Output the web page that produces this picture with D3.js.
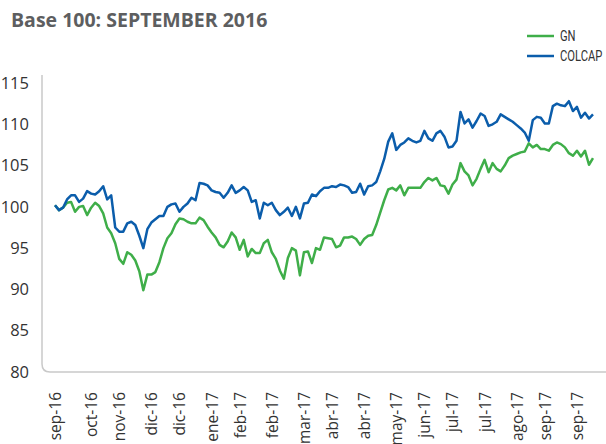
<!DOCTYPE html>
<html>
<head>
<meta charset="utf-8">
<script src="https://cdn.jsdelivr.net/npm/d3@7"></script>
<style>
	body { margin: 0; background: #fff; }
	svg { display: block; }
</style>
</head>
<body>
<svg id="chart" width="606" height="444"></svg>
<script>
// Base 100 index, GN vs COLCAP, sep-2016 .. sep-2017 (one value every ~2 trading days)
const colcap = [
	100.2, 99.6, 99.9, 100.9, 101.4, 101.4, 100.6, 101.0, 101.9, 101.6,
	101.5, 101.9, 102.5, 100.9, 101.4, 97.5, 97.0, 97.0, 98.0, 98.2,
	97.8, 96.5, 95.0, 97.3, 98.1, 98.5, 98.9, 98.9, 100.0, 100.3,
	100.4, 99.4, 100.0, 100.4, 101.1, 100.8, 102.9, 102.8, 102.6, 102.0,
	101.8, 101.7, 101.1, 101.7, 102.6, 101.7, 102.0, 102.4, 102.0, 100.6,
	100.8, 98.6, 100.5, 100.2, 100.5, 99.6, 99.0, 99.4, 99.9, 98.9,
	100.0, 98.6, 100.4, 100.5, 101.5, 101.3, 101.9, 102.3, 102.3, 102.5,
	102.4, 102.7, 102.6, 102.4, 101.7, 101.8, 102.8, 101.5, 102.5, 102.6,
	103.0, 104.3, 105.8, 107.9, 108.9, 106.9, 107.5, 107.8, 108.3, 108.0,
	107.8, 108.0, 109.2, 108.3, 108.0, 108.9, 109.2, 108.5, 107.2, 107.3,
	108.0, 111.5, 110.1, 110.6, 109.6, 110.4, 111.3, 111.0, 109.8, 110.0,
	110.3, 111.2, 110.9, 110.6, 110.3, 109.9, 109.5, 109.0, 108.0, 110.5,
	110.9, 110.8, 110.1, 110.1, 112.2, 112.5, 112.3, 112.2, 112.8, 111.6,
	112.1, 110.8, 111.4, 110.7, 111.2
];
const gn = [
	100.2, 99.6, 99.9, 100.5, 100.6, 99.4, 100.0, 100.1, 99.0, 99.9,
	100.5, 100.1, 99.2, 97.5, 96.8, 95.6, 93.7, 93.1, 94.5, 94.2,
	93.5, 92.2, 89.9, 91.8, 91.8, 92.1, 93.3, 95.0, 96.2, 96.8,
	97.9, 98.6, 98.5, 98.2, 98.0, 98.0, 98.7, 98.4, 97.6, 96.9,
	96.3, 95.4, 95.1, 95.8, 96.9, 96.3, 94.8, 96.0, 94.0, 94.9,
	94.4, 94.4, 95.6, 96.0, 94.5, 93.7, 92.3, 91.3, 93.8, 95.0,
	94.7, 91.7, 94.5, 94.6, 93.2, 95.0, 94.8, 96.3, 96.2, 96.1,
	95.1, 95.3, 96.3, 96.3, 96.4, 96.1, 95.4, 96.1, 96.5, 96.6,
	97.8, 99.3, 100.8, 102.1, 102.3, 102.0, 102.6, 101.4, 102.3, 102.3,
	102.3, 102.3, 103.0, 103.5, 103.2, 103.5, 102.6, 102.5, 101.6, 102.7,
	103.3, 105.3, 104.3, 103.8, 102.6, 103.4, 104.6, 105.7, 104.2, 105.3,
	104.6, 104.3, 105.0, 105.9, 106.2, 106.4, 106.6, 106.7, 107.7, 107.2,
	107.5, 107.0, 107.0, 106.8, 107.5, 107.8, 107.6, 107.2, 106.5, 106.2,
	106.8, 106.1, 106.8, 105.1, 105.9
];
const xLabels = ['sep-16', 'oct-16', 'nov-16', 'dic-16', 'dic-16', 'ene-17', 'feb-17', 'feb-17', 'mar-17',
	'abr-17', 'abr-17', 'may-17', 'jun-17', 'jul-17', 'jul-17', 'ago-17', 'sep-17', 'sep-17'];
const xLabelIdx = [0, 9, 16, 24, 31, 39, 46, 54, 62, 69, 77, 85, 92, 99, 107, 115, 122, 130];
const yTicks = [80, 85, 90, 95, 100, 105, 110, 115];

const svg = d3.select('#chart');
const color = { gn: '#3fae49', colcap: '#0b5dab', axis: '#c9c9c9', text: '#333' };
const font = '"Open Sans", sans-serif';

const x = d3.scaleLinear().domain([0, colcap.length - 1]).range([55, 593]);
const y = d3.scaleLinear().domain([80, 115]).range([372, 83]);
const axisX = 42;

// Title
svg.append('text')
	.attr('x', 11).attr('y', 27)
	.attr('font-family', font).attr('font-weight', 700)
	.attr('font-size', 19.5).attr('fill', '#5d5e60')
	.text('Base 100: SEPTEMBER 2016');

// Axis frame: vertical + horizontal with rounded corner
svg.append('path')
	.attr('d', 'M' + axisX + ',75 V' + (y(80) - 8) + ' Q' + axisX + ',' + y(80) + ' ' + (axisX + 8) + ',' + y(80) + ' H606')
	.attr('fill', 'none').attr('stroke', color.axis).attr('stroke-width', 1.5);

// Y axis labels
svg.append('g')
	.attr('transform', 'translate(' + axisX + ',0)')
	.call(d3.axisLeft(y).tickValues(yTicks).tickSize(0).tickPadding(13))
	.call(ax => ax.select('.domain').remove())
	.call(ax => ax.selectAll('text')
		.attr('font-family', font).attr('font-size', 16.5).attr('fill', color.text));

// X axis labels (rotated)
svg.append('g')
	.attr('transform', 'translate(0,' + y(80) + ')')
	.call(d3.axisBottom(x).tickValues(xLabelIdx).tickFormat((d, i) => xLabels[i]).tickSize(0))
	.call(ax => ax.select('.domain').remove())
	.call(ax => ax.selectAll('text')
		.attr('font-family', font).attr('font-size', 15.5).attr('fill', color.text)
		.attr('text-anchor', 'end')
		.attr('transform', 'rotate(-90)')
		.attr('x', -20).attr('y', 0).attr('dy', '0.35em'));

// Lines
const line = d3.line().x((d, i) => x(i)).y(d => y(d));
svg.append('path').datum(gn).attr('d', line)
	.attr('fill', 'none').attr('stroke', color.gn).attr('stroke-width', 2.5).attr('stroke-linejoin', 'round');
svg.append('path').datum(colcap).attr('d', line)
	.attr('fill', 'none').attr('stroke', color.colcap).attr('stroke-width', 2.5).attr('stroke-linejoin', 'round');

// Legend (condensed text)
const legend = svg.append('g').attr('transform', 'translate(527,36)');
[{ label: 'GN', color: color.gn }, { label: 'COLCAP', color: color.colcap }].forEach((e, i) => {
	const row = legend.append('g').attr('transform', 'translate(0,' + (i * 20) + ')');
	row.append('line').attr('x1', 0).attr('x2', 27).attr('y1', 0).attr('y2', 0)
		.attr('stroke', e.color).attr('stroke-width', 2.5);
	row.append('text').attr('transform', 'translate(33,0) scale(0.8,1)').attr('dy', '0.36em')
		.attr('font-family', '"Roboto", sans-serif').attr('font-size', 14)
		.attr('fill', color.text).text(e.label);
});
</script>
</body>
</html>
